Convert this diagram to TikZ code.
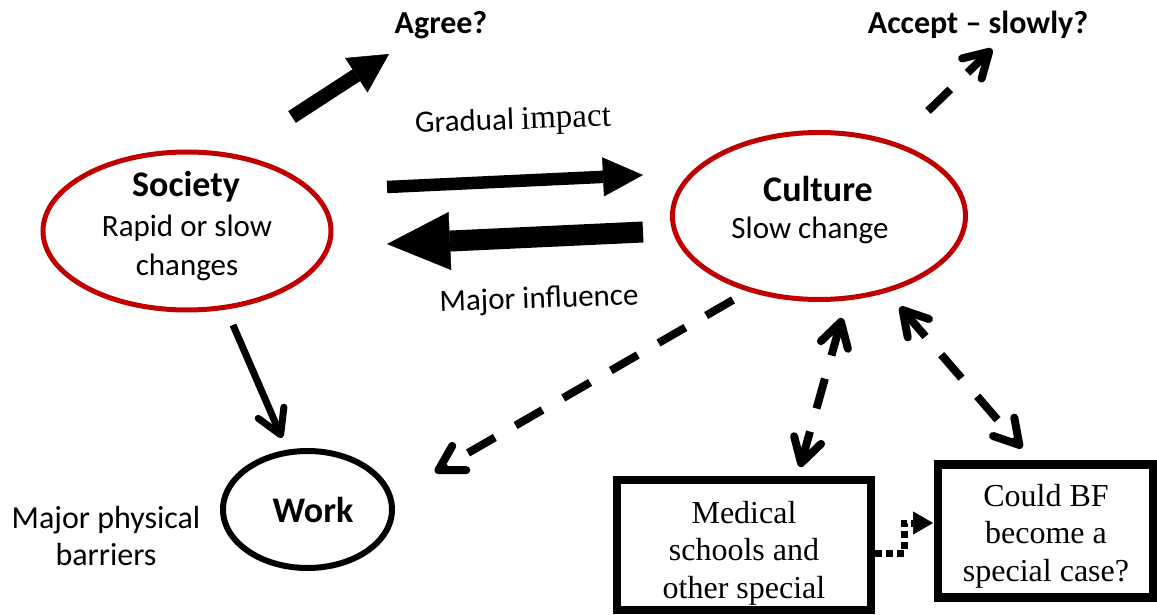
\documentclass[tikz,border=0pt]{standalone}
\usepackage{fontspec}
\setmainfont{Carlito}
\newfontfamily\boxfont{Liberation Serif}
\usetikzlibrary{arrows.meta,shapes.geometric}

\definecolor{ringred}{RGB}{192,0,0}

\tikzset{
  RoundBarb/.tip={Straight Barb[round,length=24pt,width=28pt]},
  BigHead/.tip={Triangle[line width=0.5pt]}
}

\begin{document}
\begin{tikzpicture}[x=1pt,y=-1pt,
  ring/.style={draw=ringred, line width=5pt, ellipse, inner sep=0pt},
  blackring/.style={draw=black, line width=6pt, ellipse, inner sep=0pt},
  framebox/.style={draw=black, line width=8.5pt, rectangle, inner sep=0pt},
  titletext/.style={font=\fontsize{36}{42}\selectfont\bfseries, inner sep=0pt},
  toptext/.style={font=\fontsize{32}{38}\selectfont\bfseries, inner sep=0pt},
  bodytext/.style={font=\fontsize{31}{39}\selectfont, align=center, inner sep=0pt},
  serifbody/.style={font=\boxfont\fontsize{32}{37.5}\selectfont, align=center, inner sep=0pt},
  bigarrow/.style={draw=black, line cap=butt},
  dashlink/.style={draw=black, line width=8pt, dash pattern=on 31pt off 24pt}
]
\useasboundingbox (0,0) rectangle (1157,615);

% main ellipses
\node[ring, minimum width=288pt, minimum height=158pt] (society) at (187,231) {};
\node[titletext] (societytitle) at (186,187) {Society};
\node[bodytext] (societytext) at (187,248) {Rapid or slow\\changes};

\node[ring, minimum width=293pt, minimum height=167pt] (culture) at (819,216) {};
\node[titletext] (culturetitle) at (818,189) {Culture};
\node[bodytext] (culturetext) at (810,230) {Slow change};

\node[blackring, minimum width=169pt, minimum height=117pt] (work) at (307.5,509.5) {};
\node[titletext] (worktitle) at (313,510) {Work};

% boxes
\node[framebox, minimum width=254pt, minimum height=130pt] (medical) at (744,545) {};
\node[serifbody] (medicaltext) at (744,553) {Medical\\schools and\\other special};

\node[framebox, minimum width=215pt, minimum height=133pt] (bf) at (1045.5,531) {};
\node[serifbody] (bftext) at (1046,536) {Could BF\\become a\\special case?};

% free labels
\node[toptext] (agree) at (441,25) {Agree?};
\node[toptext] (accept) at (978,25) {Accept -- slowly?};
\node[bodytext, rotate=2] (gradual) at (513,122) {Gradual {\boxfont\fontsize{33}{39}\selectfont impact}};
\node[bodytext, rotate=2] (major) at (539,300) {Major influence};
\node[bodytext, font=\fontsize{32}{37}\selectfont] (barriers) at (106,536) {Major physical\\barriers};

% connector end points
\coordinate (s-agree) at (292,117);
\coordinate (e-agree) at (389,54);
\coordinate (s-grad) at (387,187);
\coordinate (e-grad) at (643,175);
\coordinate (s-maj) at (643,232);
\coordinate (e-maj) at (387,244);
\coordinate (s-acc) at (928,111);
\coordinate (e-acc) at (992,49);
\coordinate (s-work) at (233,325);
\coordinate (e-work) at (282,438);
\coordinate (c-work) at (733,300);
\coordinate (w-work) at (435,472);
\coordinate (c-med) at (842,318);
\coordinate (m-med) at (800,467);
\coordinate (c-bf) at (900,307);
\coordinate (b-bf) at (1022,448);
\coordinate (d1) at (875,553);
\coordinate (d2) at (904,553);
\coordinate (d3) at (904,523);
\coordinate (d4) at (933,523);

% solid arrows
\draw[bigarrow, line width=14pt, -{BigHead[length=39pt,width=41pt]}] (s-agree) -- (e-agree);
\draw[bigarrow, line width=12.5pt, -{BigHead[length=40pt,width=39pt]}] (s-grad) -- (e-grad);
\draw[bigarrow, line width=21pt, -{BigHead[length=63pt,width=58pt]}] (s-maj) -- (e-maj);
\draw[line width=7pt, -{RoundBarb}] (s-work) -- (e-work);

% dashed arrows
\draw[dashlink, -{RoundBarb}] (s-acc) -- (e-acc);
\draw[dashlink, -{RoundBarb}] (c-work) -- (w-work);
\draw[dashlink, {RoundBarb}-{RoundBarb}] (c-med) -- (m-med);
\draw[dashlink, {RoundBarb}-{RoundBarb}] (c-bf) -- (b-bf);

% dotted link between the boxes
\draw[line width=7pt, dash pattern=on 7pt off 4pt, -{BigHead[length=20pt,width=23pt]}] (d1) -- (d2) -- (d3) -- (d4);
\end{tikzpicture}
\end{document}
